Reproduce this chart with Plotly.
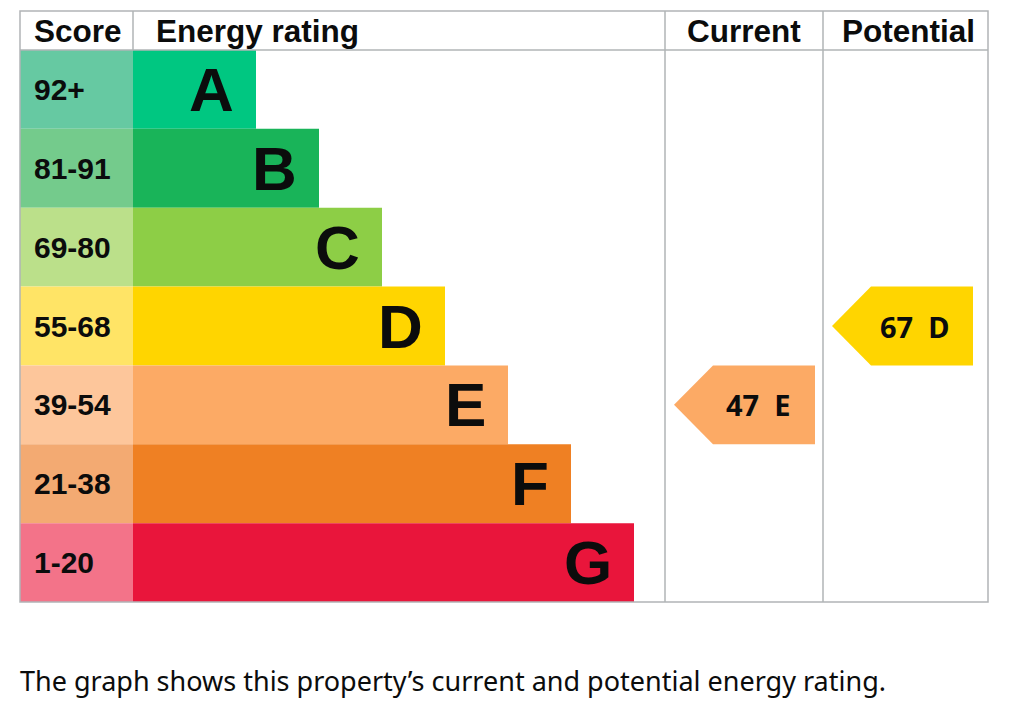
import plotly.graph_objects as go

# Données du graphique EPC
bandes = ['A', 'B', 'C', 'D', 'E', 'F', 'G']
plages_score = ['92+', '81-91', '69-80', '55-68', '39-54', '21-38', '1-20']
score_min = [92, 81, 69, 55, 39, 21, 1]
longueur_barre = [2, 3, 4, 5, 6, 7, 8]
couleurs_barre = ['#00c781', '#19b459', '#8dce46', '#ffd500', '#fcaa65', '#ef8023', '#e9153b']
couleurs_score = ['#66c9a2', '#74cb8c', '#bbe08a', '#ffe466', '#fdc69b', '#f3aa72', '#f37389']
en_tetes = ['Score', 'Energy rating', 'Current', 'Potential']
score_actuel = 47
score_potentiel = 67
legende = 'The graph shows this property\u2019s current and potential energy rating.'

# --- mise en page (pixels de la page ; la page ajoute une marge de 8 px)
W, H = 1024, 710
DECALAGE = 8
GAUCHE, DROITE, HAUT, LIGNE_ENTETE, BAS = 20, 988, 11, 50, 602
COL_NOTE = 133
COL_ACTUEL = 665
COL_POTENTIEL = 823
PAS = 63
GRIS = '#b1b4b6'
NOIR = '#0b0c0c'
POLICE = 'Liberation Sans, Arial, sans-serif'


def py(p):
	# pixel vertical de la page -> coordonnée paper
	return 1 - (p - DECALAGE) / H


def bande_de(score):
	for i, m in enumerate(score_min):
		if score >= m:
			return i
	return len(bandes) - 1


lignes = list(range(len(bandes)))
fig = go.Figure()

# colonne des scores
fig.add_trace(go.Bar(
	y=lignes, x=[COL_NOTE - GAUCHE] * len(bandes), base=GAUCHE, orientation='h',
	width=1, marker=dict(color=couleurs_score, line=dict(width=0)), hoverinfo='skip',
))

# barres de classe énergétique
longueurs = [n * PAS - 3 for n in longueur_barre]
fig.add_trace(go.Bar(
	y=lignes, x=longueurs, base=COL_NOTE, orientation='h',
	width=1, marker=dict(color=couleurs_barre, line=dict(width=0)), hoverinfo='skip',
))

annotations = []
for i, (b, s, l) in enumerate(zip(bandes, plages_score, longueurs)):
	annotations.append(dict(x=COL_NOTE + l - 20, y=i, xref='x', yref='y', text='<b>%s</b>' % b,
		showarrow=False, xanchor='right', yanchor='middle', font=dict(family=POLICE, size=62, color=NOIR)))
	annotations.append(dict(x=32, y=i, xref='x', yref='y', text='<b>%s</b>' % s, showarrow=False,
		xanchor='left', yanchor='middle', font=dict(family=POLICE, size=30, color=NOIR)))

# flèches actuelle / potentielle
for score, col_g in [(score_actuel, COL_ACTUEL), (score_potentiel, COL_POTENTIEL)]:
	r = bande_de(score)
	pointe = col_g + 9
	corps = pointe + 39
	fin = pointe + 141
	fig.add_trace(go.Scatter(
		x=[pointe, corps, fin, fin, corps, pointe],
		y=[r, r - 0.5, r - 0.5, r + 0.5, r + 0.5, r],
		fill='toself', fillcolor=couleurs_barre[r], mode='lines', line=dict(width=0),
		hoverinfo='skip',
	))
	annotations.append(dict(x=fin - 22, y=r, xref='x', yref='y',
		text='<b>%d\u00a0\u00a0%s</b>' % (score, bandes[r]), showarrow=False,
		xanchor='right', yanchor='middle', font=dict(family='Noto Sans, sans-serif', size=29, color=NOIR)))

# en-têtes
y_entete = py((HAUT + LIGNE_ENTETE) / 2 + 1)
pos_entetes = [(32, 'left'), (154, 'left'), ((COL_ACTUEL + COL_POTENTIEL) / 2, 'center'),
	((COL_POTENTIEL + DROITE) / 2 + 3, 'center')]
for t, (x, anc) in zip(en_tetes, pos_entetes):
	annotations.append(dict(x=x, y=y_entete, xref='x', yref='paper', text='<b>%s</b>' % t,
		showarrow=False, xanchor=anc, yanchor='middle', font=dict(family=POLICE, size=31.5, color=NOIR)))

# légende sous le graphique
annotations.append(dict(x=GAUCHE - 2, y=py(680), xref='x', yref='paper', text=legende, showarrow=False,
	xanchor='left', yanchor='middle', font=dict(family='Noto Sans, sans-serif', size=27, color=NOIR)))

# traits du tableau
trait = dict(color=GRIS, width=1.5)
shapes = [
	dict(type='rect', xref='x', yref='paper', x0=GAUCHE, x1=DROITE, y0=py(HAUT), y1=py(BAS), line=trait, layer='above'),
	dict(type='line', xref='x', yref='paper', x0=GAUCHE, x1=DROITE, y0=py(LIGNE_ENTETE), y1=py(LIGNE_ENTETE), line=trait),
	dict(type='line', xref='x', yref='paper', x0=COL_NOTE, x1=COL_NOTE, y0=py(HAUT), y1=py(LIGNE_ENTETE), line=trait),
	dict(type='line', xref='x', yref='paper', x0=COL_ACTUEL, x1=COL_ACTUEL, y0=py(HAUT), y1=py(BAS), line=trait),
	dict(type='line', xref='x', yref='paper', x0=COL_POTENTIEL, x1=COL_POTENTIEL, y0=py(HAUT), y1=py(BAS), line=trait),
]

fig.update_layout(
	width=W, height=H, margin=dict(l=0, r=0, t=0, b=0),
	paper_bgcolor='white', plot_bgcolor='white', showlegend=False, barmode='overlay',
	xaxis=dict(range=[DECALAGE, W + DECALAGE], domain=[0, 1], visible=False, fixedrange=True),
	yaxis=dict(range=[6.5, -0.5], domain=[py(BAS), py(LIGNE_ENTETE)], visible=False, fixedrange=True),
	annotations=annotations, shapes=shapes,
)

fig.write_html('out.html')
